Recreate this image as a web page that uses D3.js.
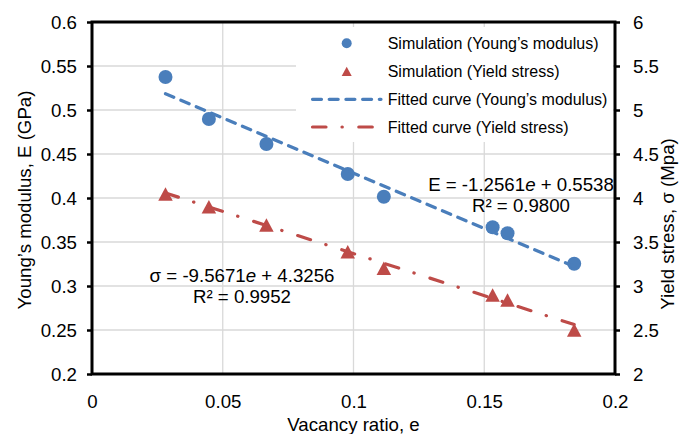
<!DOCTYPE html>
<html><head><meta charset="utf-8">
<script src="https://cdn.jsdelivr.net/npm/d3@7"></script>
<style>body{margin:0;background:#fff}svg{display:block;font-family:"Liberation Sans",Arial,sans-serif}</style>
</head><body>
<svg id="c" width="679" height="434"></svg>
<script>
const vacancy = [0.0281, 0.0447, 0.0667, 0.0978, 0.1116, 0.1532, 0.1589, 0.1844];
const youngsModulus = [0.5375, 0.4898, 0.4614, 0.4273, 0.4015, 0.3667, 0.3599, 0.3253];
const yieldStress = [4.045, 3.901, 3.693, 3.390, 3.201, 2.898, 2.841, 2.500];
const xTicks = [0, 0.05, 0.1, 0.15, 0.2];
const yLeftTicks = [0.2, 0.25, 0.3, 0.35, 0.4, 0.45, 0.5, 0.55, 0.6];
const yRightTicks = [2, 2.5, 3, 3.5, 4, 4.5, 5, 5.5, 6];
const fitE = [-1.2561, 0.5538];
const fitS = [-9.5671, 4.3256];
const legendLabels = ["Simulation (Young\u2019s modulus)", "Simulation (Yield stress)", "Fitted curve (Young\u2019s modulus)", "Fitted curve (Yield stress)"];

const blue = "#4A7EBB", red = "#BE4B48";
const svg = d3.select("#c");
const L = 92, R = 615, T = 22, B = 374;
const x = d3.scaleLinear().domain([0, 0.2]).range([L, R]);
const yL = d3.scaleLinear().domain([0.2, 0.6]).range([B, T]);
const yR = d3.scaleLinear().domain([2, 6]).range([B, T]);
const fs = "18.67px";

// gridlines
const g = svg.append("g");
g.selectAll(".hg").data(yLeftTicks).join("line")
  .attr("x1", L).attr("x2", R).attr("y1", d => yL(d)).attr("y2", d => yL(d))
  .attr("stroke", "#d9d9d9").attr("stroke-width", 1.3);
g.selectAll(".vg").data(xTicks).join("line")
  .attr("x1", d => x(d)).attr("x2", d => x(d)).attr("y1", T).attr("y2", B)
  .attr("stroke", "#d9d9d9").attr("stroke-width", 1.3);

// markers
svg.append("g").selectAll("circle").data(vacancy).join("circle")
  .attr("cx", d => x(d)).attr("cy", (d, i) => yL(youngsModulus[i])).attr("r", 7)
  .attr("fill", blue);
function tri(cx, cy, w, h) {
  return `M${cx},${cy - h / 2}L${cx + w / 2},${cy + h / 2}L${cx - w / 2},${cy + h / 2}Z`;
}
svg.append("g").selectAll("path").data(vacancy).join("path")
  .attr("d", (d, i) => tri(x(d), yR(yieldStress[i]), 14.5, 13.5))
  .attr("fill", red);

// trendlines
const x0 = d3.min(vacancy), x1 = d3.max(vacancy);
svg.append("line")
  .attr("x1", x(x0)).attr("x2", x(x1))
  .attr("y1", yL(fitE[0] * x0 + fitE[1])).attr("y2", yL(fitE[0] * x1 + fitE[1]))
  .attr("stroke", blue).attr("stroke-width", 3.2).attr("stroke-linecap", "round")
  .attr("stroke-dasharray", "9,7.7");
svg.append("line")
  .attr("x1", x(x0)).attr("x2", x(x1))
  .attr("y1", yR(fitS[0] * x0 + fitS[1])).attr("y2", yR(fitS[0] * x1 + fitS[1]))
  .attr("stroke", red).attr("stroke-width", 3.2).attr("stroke-linecap", "round")
  .attr("stroke-dasharray", "13.5,16,0.3,16.5");

// equations
const eq = svg.append("g").attr("font-size", fs).attr("fill", "#000").attr("text-anchor", "middle");
const t1 = eq.append("text").attr("x", 521).attr("y", 190.7);
t1.append("tspan").text("E = -1.2561");
t1.append("tspan").attr("font-style", "italic").text("e");
t1.append("tspan").text(" + 0.5538");
eq.append("text").attr("x", 521).attr("y", 211.7).text("R\u00B2 = 0.9800");
const t2 = eq.append("text").attr("x", 242).attr("y", 281.7);
t2.append("tspan").text("\u03C3 = -9.5671");
t2.append("tspan").attr("font-style", "italic").text("e");
t2.append("tspan").text(" + 4.3256");
eq.append("text").attr("x", 242).attr("y", 303.3).text("R\u00B2 = 0.9952");

// legend
const lg = svg.append("g");
lg.append("rect").attr("x", 296).attr("y", 27).attr("width", 317).attr("height", 115).attr("fill", "#fff");
const rows = [43.3, 71.3, 99.3, 127];
lg.append("circle").attr("cx", 346.7).attr("cy", rows[0]).attr("r", 5).attr("fill", blue);
lg.append("path").attr("d", tri(346.7, rows[1], 10, 9.3)).attr("fill", red);
lg.append("line").attr("x1", 312.5).attr("x2", 381).attr("y1", rows[2]).attr("y2", rows[2])
  .attr("stroke", blue).attr("stroke-width", 3.2).attr("stroke-linecap", "round").attr("stroke-dasharray", "9,7.7");
lg.append("line").attr("x1", 312.5).attr("x2", 373).attr("y1", rows[3]).attr("y2", rows[3])
  .attr("stroke", red).attr("stroke-width", 3.2).attr("stroke-linecap", "round").attr("stroke-dasharray", "13.5,16,0.3,16.5");
lg.selectAll("text").data(legendLabels).join("text")
  .attr("x", 387.7).attr("y", (d, i) => rows[i] + 5.8)
  .attr("font-size", "16px").attr("fill", "#000").text(d => d);

// axes
const fmt = d => String(d);
const axL = svg.append("g").attr("transform", `translate(${L},0)`)
  .call(d3.axisLeft(yL).tickValues(yLeftTicks).tickFormat(fmt).tickSize(5).tickPadding(10));
const axR = svg.append("g").attr("transform", `translate(${R},0)`)
  .call(d3.axisRight(yR).tickValues(yRightTicks).tickFormat(fmt).tickSize(5).tickPadding(13));
const axB = svg.append("g").attr("transform", `translate(0,${B})`)
  .call(d3.axisBottom(x).tickValues(xTicks).tickFormat(fmt).tickSize(0).tickPadding(21));
[axL, axR, axB].forEach(a => {
  a.select(".domain").remove();
  a.selectAll(".tick line").attr("stroke", "#000").attr("stroke-width", 2.5);
  a.selectAll("text").attr("font-size", fs).attr("fill", "#000").attr("font-family", "Liberation Sans, Arial, sans-serif");
});
axL.selectAll(".tick text").attr("dy", "0.35em");
axR.selectAll(".tick text").attr("dy", "0.35em");
// border
svg.append("rect").attr("x", L).attr("y", T).attr("width", R - L).attr("height", B - T)
  .attr("fill", "none").attr("stroke", "#000").attr("stroke-width", 3);

// axis titles
svg.append("text").attr("x", (L + R) / 2).attr("y", 431).attr("text-anchor", "middle")
  .attr("font-size", fs).text("Vacancy ratio, e");
svg.append("text").attr("transform", "translate(31,200) rotate(-90)").attr("text-anchor", "middle")
  .attr("font-size", fs).text("Young\u2019s modulus, E (GPa)");
svg.append("text").attr("transform", "translate(674,224) rotate(-90)").attr("text-anchor", "middle")
  .attr("font-size", fs).text("Yield stress, \u03C3 (Mpa)");
</script>
</body></html>
